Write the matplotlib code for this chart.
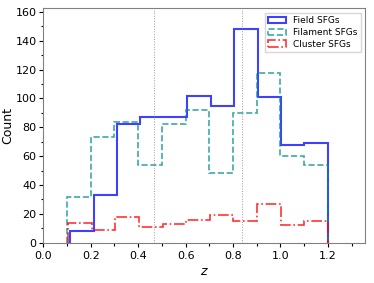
import numpy as np
import matplotlib
matplotlib.use("Agg")
import matplotlib.pyplot as plt
from matplotlib.ticker import MultipleLocator

# Histogram bin counts
field_counts = [8, 33, 82, 87, 87, 102, 95, 148, 101, 68, 69]
field_range = (0.113, 1.2)
filament_counts = [32, 73, 84, 54, 82, 92, 48, 90, 118, 60, 54]
filament_range = (0.1, 1.2)
cluster_counts = [14, 9, 18, 11, 13, 16, 19, 15, 27, 12, 15]
cluster_range = (0.105, 1.2)
vlines_z = [0.468, 0.838]
labels = ["Field SFGs", "Filament SFGs", "Cluster SFGs"]

fig = plt.figure(figsize=(3.74, 2.83), dpi=100)
ax = fig.add_axes([0.116, 0.1424, 0.86, 0.8286])

def edges(r, n):
    return np.linspace(r[0], r[1], n + 1)

fe = edges(field_range, len(field_counts))
ax.hist(fe[:-1], bins=fe, weights=field_counts, histtype="step",
        color="blue", alpha=0.75, lw=1.5, label=labels[0])
me = edges(filament_range, len(filament_counts))
ax.hist(me[:-1], bins=me, weights=filament_counts, histtype="step",
        color="darkcyan", alpha=0.75, lw=1.2, ls="--", label=labels[1])
ce = edges(cluster_range, len(cluster_counts))
ax.hist(ce[:-1], bins=ce, weights=cluster_counts, histtype="step",
        color="red", alpha=0.8, lw=1.2, ls="-.", label=labels[2])

for v in vlines_z:
    ax.axvline(v, color="gray", ls=":", lw=0.7, alpha=0.8)

ax.set_xlim(0, 1.357)
ax.set_ylim(0, 162.6)
ax.xaxis.set_major_locator(MultipleLocator(0.2))
ax.xaxis.set_minor_locator(MultipleLocator(0.1))
ax.yaxis.set_major_locator(MultipleLocator(20))
ax.yaxis.set_minor_locator(MultipleLocator(10))
ax.tick_params(which="major", labelsize=8, length=3.2, width=0.8)
ax.tick_params(which="minor", length=1.8, width=0.8)
ax.tick_params(axis="y", which="major", pad=1.7)
ax.tick_params(axis="x", which="major", pad=3.0)
for s in ax.spines.values():
    s.set_color("gray")
ax.set_xlabel(r"$z$", fontsize=9, labelpad=3)
ax.set_ylabel("Count", fontsize=9, labelpad=1.0)
ax.legend(loc="upper right", fontsize=6.5, handlelength=2.0, handletextpad=0.7,
          borderpad=0.4, labelspacing=0.3, fancybox=False)

fig.savefig("out.png", dpi=100)
